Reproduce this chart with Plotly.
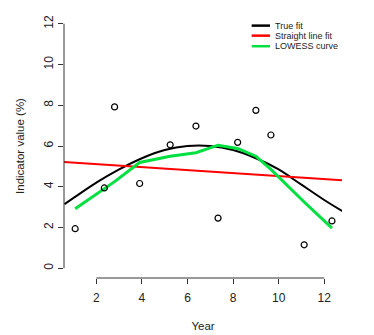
import plotly.graph_objects as go

# Observed data points
obs_x = [1.07, 2.35, 2.80, 3.90, 5.24, 6.37, 7.34, 8.20, 9.00, 9.66, 11.12, 12.34]
obs_y = [1.94, 3.94, 7.92, 4.16, 6.06, 6.98, 2.46, 6.18, 7.75, 6.54, 1.15, 2.32]

# True fit curve
true_x = [0.6, 1, 2, 3, 4, 5, 6, 7, 8, 9, 10, 11, 12, 12.8]
true_y = [3.15, 3.45, 4.2, 4.85, 5.4, 5.8, 6.0, 6.0, 5.8, 5.4, 4.85, 4.1, 3.35, 2.8]

# Straight line fit
line_x = [0.58, 12.78]
line_y = [5.21, 4.32]

# LOWESS curve
lowess_x = obs_x
lowess_y = [2.92, 3.88, 4.25, 5.19, 5.50, 5.67, 6.04, 5.88, 5.50, 4.85, 3.25, 1.97]

x_ticks = [2, 4, 6, 8, 10, 12]
y_ticks = [0, 2, 4, 6, 8, 10, 12]

legend_names = ["True fit", "Straight line fit", "LOWESS curve"]
legend_colors = ["#000000", "#ff0000", "#00e040"]

fig = go.Figure()
fig.add_trace(go.Scatter(x=true_x, y=true_y, mode="lines", line=dict(color=legend_colors[0], width=2, shape="spline"), showlegend=False))
fig.add_trace(go.Scatter(x=line_x, y=line_y, mode="lines", line=dict(color=legend_colors[1], width=2), showlegend=False))
fig.add_trace(go.Scatter(x=lowess_x, y=lowess_y, mode="lines", line=dict(color=legend_colors[2], width=3), showlegend=False))
fig.add_trace(go.Scatter(x=obs_x, y=obs_y, mode="markers",
                         marker=dict(symbol="circle-open", size=6, color="#000000", line=dict(width=1.2)),
                         showlegend=False))

axis_color = "#333333"
shapes = [
    dict(type="line", xref="x", yref="paper", x0=x_ticks[0], x1=x_ticks[-1], y0=0, y1=0,
         line=dict(color=axis_color, width=1)),
    dict(type="line", xref="paper", yref="y", x0=0, x1=0, y0=y_ticks[0], y1=y_ticks[-1],
         line=dict(color=axis_color, width=1)),
]
annotations = []
row_y = [0.956, 0.918, 0.878]
for name, col, ry in zip(legend_names, legend_colors, row_y):
    shapes.append(dict(type="line", xref="paper", yref="paper", x0=0.675, x1=0.741, y0=ry, y1=ry,
                       line=dict(color=col, width=2.5)))
    annotations.append(dict(xref="paper", yref="paper", x=0.753, y=ry, text=name, showarrow=False,
                            xanchor="left", yanchor="middle", font=dict(size=9, color="#222222")))

fig.update_layout(
    width=374, height=335,
    margin=dict(l=64, r=32, t=14, b=57),
    paper_bgcolor="white", plot_bgcolor="white",
    font=dict(family="Liberation Sans, Arial, sans-serif", size=12, color="#222222"),
    shapes=shapes, annotations=annotations,
    xaxis=dict(range=[0.58, 12.78], tickvals=x_ticks, ticks="outside", ticklen=5, tickcolor=axis_color,
               showgrid=False, zeroline=False, showline=False, automargin=False,
               title=dict(text="Year", standoff=17, font=dict(size=11.5)), ticklabelstandoff=4),
    yaxis=dict(range=[-0.48, 12.48], tickvals=y_ticks, ticks="outside", ticklen=5, tickcolor=axis_color,
               tickangle=-90, showgrid=False, zeroline=False, showline=False, automargin=False,
               title=dict(text="Indicator value (%)", standoff=15, font=dict(size=11.5))),
)

fig.write_html("out.html")
